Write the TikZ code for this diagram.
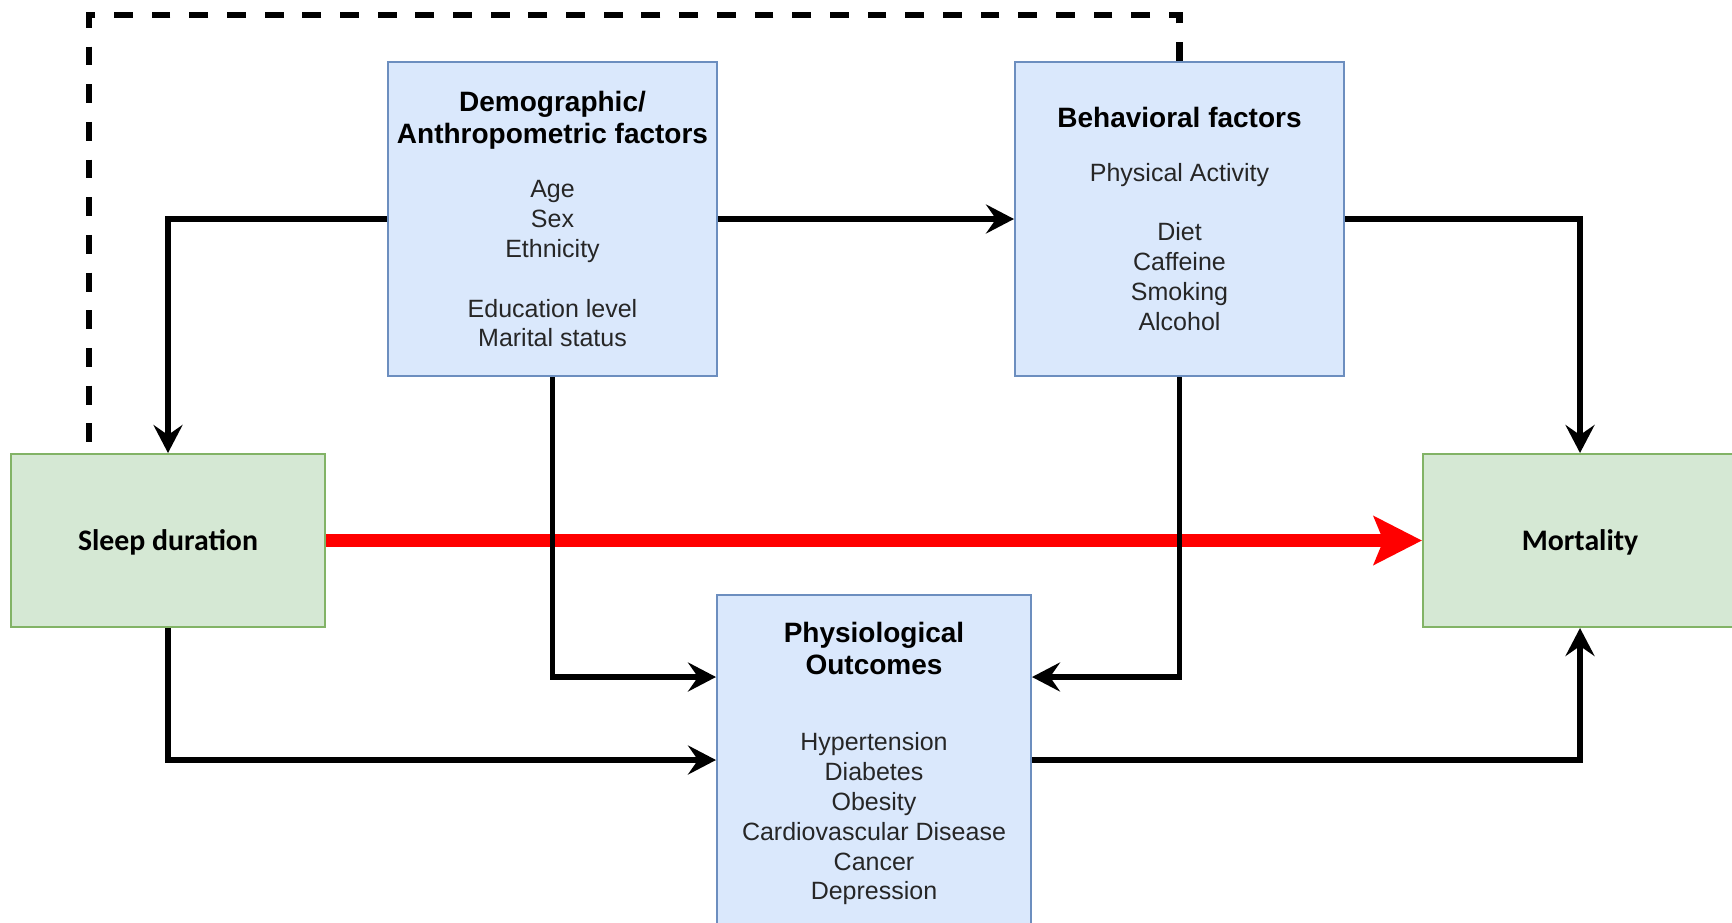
\documentclass[tikz,border=0pt]{standalone}
\usepackage{fontspec}
\setmainfont{Liberation Sans}
\newfontfamily\calfont{Carlito}
\usetikzlibrary{arrows.meta,calc}
\definecolor{blueFill}{HTML}{DAE8FC}
\definecolor{blueLine}{HTML}{6C8EBF}
\definecolor{greenFill}{HTML}{D5E8D4}
\definecolor{greenLine}{HTML}{82B366}
\definecolor{redLine}{HTML}{FF0000}
\newcommand{\ttl}[1]{{\fontsize{14}{14.9}\selectfont\bfseries\color{black}#1}}
\newcommand{\lowered}[1]{\raisebox{-1.1pt}[\height][\depth]{#1}}
\begin{document}
\begin{tikzpicture}[x=0.5pt,y=-0.5pt,
  bluebox/.style={draw=blueLine, fill=blueFill, line width=1pt, align=center,
    font=\fontsize{12.5}{14.9}\selectfont, text=black!85},
  greenbox/.style={draw=greenLine, fill=greenFill, line width=1pt,
    font=\calfont\bfseries\fontsize{14.9}{17}\selectfont, text=black},
  conn/.style={line width=2.6pt, -{Stealth[length=14pt,width=14.5pt,inset=5pt]}},
  mainlink/.style={draw=redLine, line width=6.4pt, -{Stealth[length=24pt,width=24pt,inset=4.7pt]}},
  dashlink/.style={line width=3.2pt, dash pattern=on 9.42pt off 9.42pt}
]
\useasboundingbox (0,0) rectangle (1732,922);
\clip (0,0) rectangle (1732,922);

\node[bluebox, minimum width=164.5pt, minimum height=157pt] (demo) at (552.5,219)
  {\ttl{Demographic/}\\[1.1pt]\ttl{Anthropometric factors}\\[12.4pt]Age\\Sex\\Ethnicity\\[14.9pt]Education level\\Marital status};
\node[bluebox, minimum width=164.5pt, minimum height=157pt] (behav) at (1179.5,219)
  {\ttl{Behavioral factors}\\[11.8pt]Physical Activity\\[14.95pt]Diet\\Caffeine\\Smoking\\Alcohol};
\node[bluebox, minimum width=157pt, minimum height=165pt] (phys) at (874,760)
  {\rule{0pt}{13.6pt}\ttl{Physiological}\\[1.4pt]\ttl{Outcomes}\\[23.2pt]Hypertension\\Diabetes\\Obesity\\Cardiovascular Disease\\Cancer\\Depression};
\node[greenbox, minimum width=157pt, minimum height=86.5pt] (sleep) at (168,540.5) {\lowered{Sleep duration}};
\node[greenbox, minimum width=157pt, minimum height=86.5pt] (mort) at (1580,540.5) {\lowered{Mortality}};

\draw[mainlink] (sleep) -- (mort);

\coordinate (pw) at ($(phys.north west)!0.25!(phys.south west)$);
\coordinate (pe) at ($(phys.north east)!0.25!(phys.south east)$);
\coordinate (dcorner) at (89,15);

\draw[conn] (demo.west) -| (sleep.north);
\draw[conn] (demo.east) -- (behav.west);
\draw[conn] (behav.east) -| (mort.north);
\draw[conn] (demo.south) |- (pw);
\draw[conn] (behav.south) |- (pe);
\draw[conn] (sleep.south) |- (phys.west);
\draw[conn] (phys.east) -| (mort.south);
\draw[dashlink] (behav.north) |- (dcorner) -- (dcorner |- sleep.north);
\end{tikzpicture}
\end{document}
